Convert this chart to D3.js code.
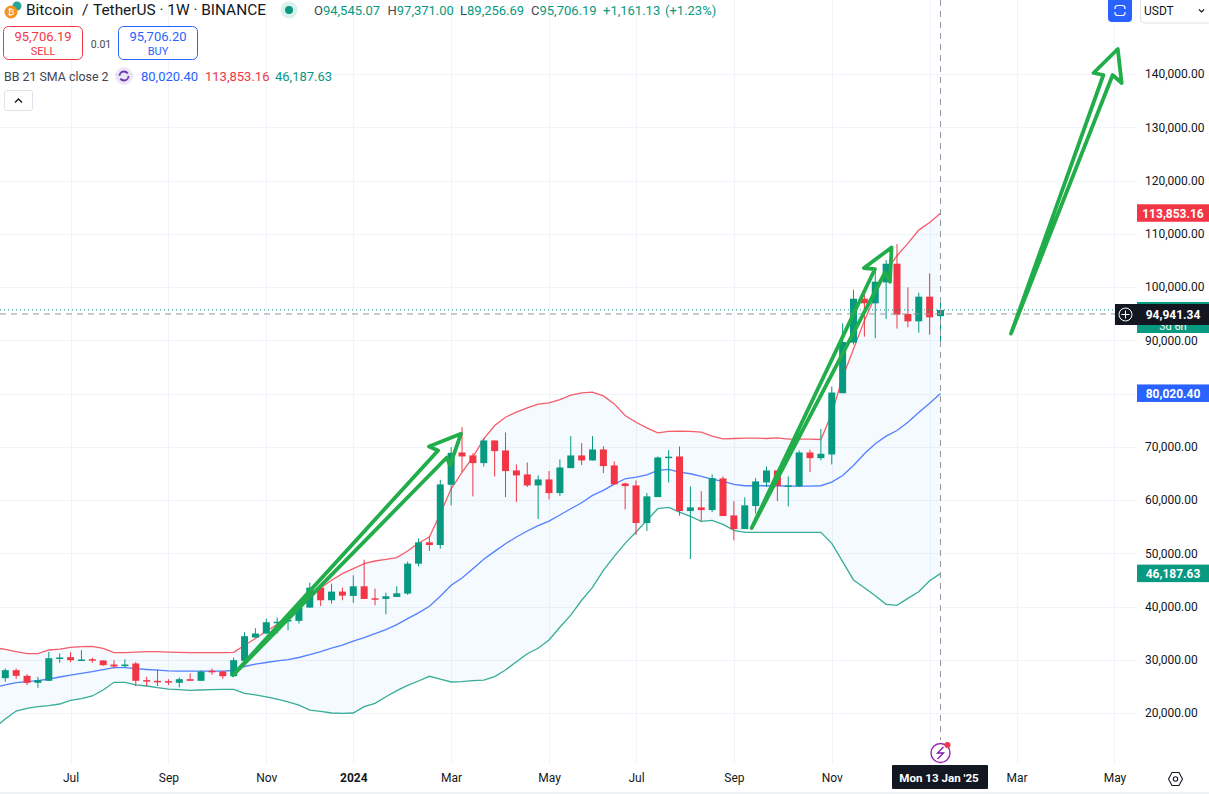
<!DOCTYPE html>
<html>
<head>
<meta charset="utf-8">
<title>BTCUSDT 1W</title>
<script src="https://cdn.jsdelivr.net/npm/d3@7"></script>
<style>
  html, body { margin: 0; padding: 0; background: #fff; overflow: hidden; }
  svg { display: block; font-family: Roboto, sans-serif; }
</style>
</head>
<body>
<svg id="chart" width="1209" height="794"></svg>
<script>
// weekly candles, week 0 = 22 May 2023, week 86 = 13 Jan 2025
const opens = [
  26560,28060,27000,25690,26060,30310,30500,29940,30120,29880,
  29120,28810,29310,26190,26060,26000,25690,26370,26060,27940,
  27810,26940,29810,34190,34940,37000,37380,37310,39810,43560,
  41190,42810,42000,43810,41560,41440,41810,42440,48060,52060,
  51560,62870,68940,68380,66940,71190,69310,65560,64810,62750,
  63870,61310,66000,68380,67440,69500,66500,63120,62750,55690,
  60560,68060,68190,57940,58630,58120,64060,57120,54560,58880,
  63310,65560,62630,62560,68940,67870,68560,80060,89560,97810,
  96940,100870,104380,94940,93560,98190,94545.07];
const closes = [
  28060,27000,25690,26190,30310,30440,29940,30060,30000,29000,
  28750,29120,26060,26000,25940,25810,26370,26060,27810,27750,
  26940,29940,34440,34940,37060,37150,37480,39810,43560,41190,
  42810,42060,43810,41440,41500,41940,42500,48060,52060,51560,
  62940,68870,68190,66940,71190,69190,65440,64630,62750,63870,
  61310,66120,68380,67440,69500,66380,62940,62620,55690,60690,
  68000,68150,57940,58630,58120,64120,57000,54560,59000,63500,
  65560,62630,62750,68940,67870,68690,80190,89690,97810,96940,
  101000,104380,94810,93560,98190,94310,95706.19];
const highs = [
  28370,28370,27310,26810,31500,31190,31440,31810,30380,29940,
  29940,30120,29620,26810,28190,26370,26690,27440,28000,28370,
  27940,30440,35190,35940,37750,37940,37750,40250,44500,43560,
  44310,43560,45870,48810,43370,42620,43810,48440,52810,53190,
  63810,69940,73690,68810,71690,71190,72690,66690,67060,64630,
  65440,67630,72000,70690,72000,70120,67250,63250,63690,61310,
  68190,69380,70060,62560,61690,64810,64440,59810,60500,64120,
  66310,65560,64440,69310,69440,73380,81310,93190,99500,98690,
  103380,105060,108060,99940,98940,102560,97371];
const lows = [
  25870,26440,25250,24750,26060,29440,29560,29810,29440,28880,
  28370,28500,25060,25060,25060,25250,24810,26060,26060,27190,
  26440,26940,29810,34190,34810,34940,35560,36810,39810,40120,
  40560,41190,40690,41440,40250,38560,41810,42190,47560,50440,
  50870,59000,65250,60690,66310,64440,60560,59630,62440,56440,
  60130,60750,66000,66560,67440,65060,62940,58250,53440,54190,
  60560,63310,57060,48940,55870,57750,57000,52440,54560,57440,
  62440,59810,58810,62440,65250,67440,66690,80060,89190,90690,
  90380,94000,92190,92440,91440,91060,89256.69];

// bollinger bands start one week before the first candle (runs off the left edge)
const upperBand = [32300,
  31970,31530,31150,31150,31850,32030,32350,32470,32540,32170,
  31340,31340,31460,31530,31530,31460,31400,31340,31340,31340,
  31340,31400,32750,34000,35370,36690,38060,39620,41500,43500,
  44940,46190,47120,48060,48560,48870,49190,50440,51940,53060,
  57440,62120,65200,68060,71500,74000,75560,76500,77310,78000,
  78250,78880,79690,80120,80250,79560,78060,75870,74620,73560,
  72620,72880,72940,72880,72750,72000,71500,71560,71620,71620,
  71560,71690,71440,71440,71440,71370,76190,83060,88370,93690,
  98370,103060,105870,108190,110690,112120,113853.16];
const basisBand = [24810,
  25280,25710,25900,26080,26400,26780,27150,27470,27770,28150,
  28530,28530,28340,28190,28060,27940,27870,27870,27880,27880,
  27880,28000,28750,29190,29500,29810,30060,30440,31000,31560,
  32190,32750,33500,34190,34940,35690,36620,37750,38810,40060,
  41940,44000,45380,47120,48870,50370,51810,53060,54190,55190,
  56060,57190,58380,59500,60870,61810,63000,64000,64310,64750,
  65560,65750,65250,64940,64440,63940,63500,62940,62690,62690,
  62690,62690,62630,62630,62630,62690,63370,64620,66500,68690,
  70560,72000,73060,74620,76440,78190,80020.40];
const lowerBand = [17200,
  18890,20390,20900,21200,21390,21710,22400,22700,23210,24340,
  25780,25780,25280,25090,24770,24520,24390,24280,24340,24390,
  24470,24470,23690,23440,23060,22620,22120,21500,20560,20340,
  20020,19960,20020,21200,21840,23080,24210,25220,26030,26910,
  26400,25840,25900,26080,26210,26840,28090,29650,31150,32170,
  33730,36120,38380,41190,43620,46810,49440,51870,54000,56190,
  58380,58630,57750,56940,56000,56190,55440,54310,53940,53940,
  53940,53940,53940,53940,53940,53950,51880,48430,45000,43550,
  42040,40430,40240,41550,42790,44860,46187.63];

const priceTicks = [20000,30000,40000,50000,60000,70000,80000,90000,100000,110000,120000,130000,140000];
const timeTickWeeks = [6,15,24,32,41,50,58,67,76,85,93,102];
// 2025 sits under the crosshair date label, 80,000 under the basis price label
const timeTickLabels = ["Jul","Sep","Nov","2024","Mar","May","Jul","Sep","Nov","","Mar","May"];

// hand drawn arrows, [week, price]
const arrowOne = [[20.94,27125],[40.6,68000],[40.9,66500],[41.9,72440],[38.96,70060],[39.8,69310]];
const arrowTwo = [[68.63,54740],[80.9,102740],[81.35,101000],[81.5,107430],[78.96,103570],[79.97,103380]];
const arrowThree = [[92.48,91250],[101.83,139810],[102.66,138310],[102.3,144690],[100.07,140190],[100.98,139810]];

const lastPrice = 95706.19;
const crosshairPrice = 94941.34;
const crosshairWeek = 86;

const UP = "#089981", DOWN = "#f23645", BLUE = "#2962ff", DARK = "#131722", TEXT = "#131722";

const svg = d3.select("#chart");
const x = d3.scaleLinear().domain([0, 86]).range([5.3, 940.5]);
const y = d3.scaleLinear().domain([20000, 140000]).range([713.1, 74]);
const plotRight = 1137, plotBottom = 764;

// grid
svg.append("g").selectAll("line").data(priceTicks).enter().append("line")
  .attr("x1", 0).attr("x2", plotRight)
  .attr("y1", d => Math.round(y(d)) + 0.5).attr("y2", d => Math.round(y(d)) + 0.5)
  .attr("stroke", "#f0f3fa");
svg.append("g").selectAll("line").data(timeTickWeeks).enter().append("line")
  .attr("x1", d => Math.round(x(d)) + 0.5).attr("x2", d => Math.round(x(d)) + 0.5)
  .attr("y1", 0).attr("y2", plotBottom)
  .attr("stroke", "#f0f3fa");

// bands
const bandWeek = i => x(i - 1);
const bandArea = d3.area().x((d, i) => bandWeek(i))
  .y0((d, i) => y(lowerBand[i])).y1(d => y(d));
svg.append("path").datum(upperBand).attr("d", bandArea).attr("fill", "#2196f3").attr("fill-opacity", 0.05);

const bandLine = d3.line().x((d, i) => bandWeek(i)).y(d => y(d));
[[upperBand, DOWN], [basisBand, BLUE], [lowerBand, UP]].forEach(([vals, col]) => {
  svg.append("path").datum(vals).attr("d", bandLine).attr("fill", "none")
    .attr("stroke", col).attr("stroke-width", 1.3).attr("stroke-opacity", 0.8);
});

// candles
const candles = svg.append("g").selectAll("g").data(d3.range(opens.length)).enter().append("g")
  .attr("fill", i => closes[i] >= opens[i] ? UP : DOWN)
  .attr("stroke", i => closes[i] >= opens[i] ? UP : DOWN);
candles.append("line")
  .attr("x1", i => x(i)).attr("x2", i => x(i))
  .attr("y1", i => y(highs[i])).attr("y2", i => y(lows[i]))
  .attr("stroke-width", 1);
candles.append("rect")
  .attr("x", i => x(i) - 3.5).attr("width", 7)
  .attr("y", i => y(Math.max(opens[i], closes[i])))
  .attr("height", i => Math.max(1.5, Math.abs(y(opens[i]) - y(closes[i]))))
  .attr("stroke", "none");

// last price and crosshair lines
svg.append("line").attr("x1", 0).attr("x2", 1115)
  .attr("y1", y(lastPrice)).attr("y2", y(lastPrice))
  .attr("stroke", UP).attr("stroke-dasharray", "1 3");
svg.append("line").attr("x1", 0).attr("x2", 1115)
  .attr("y1", y(crosshairPrice)).attr("y2", y(crosshairPrice))
  .attr("stroke", "#9598a1").attr("stroke-dasharray", "6 5");
svg.append("line").attr("x1", x(crosshairWeek)).attr("x2", x(crosshairWeek))
  .attr("y1", 0).attr("y2", 740)
  .attr("stroke", "#9598a1").attr("stroke-dasharray", "6 5");

// arrows
const arrowLine = d3.line().x(d => x(d[0])).y(d => y(d[1])).curve(d3.curveLinearClosed);
[arrowOne, arrowTwo, arrowThree].forEach(a => {
  svg.append("path").datum(a).attr("d", arrowLine)
    .attr("fill", "none").attr("stroke", "#20ad4a").attr("stroke-width", 3.8)
    .attr("stroke-linejoin", "round");
});

// axes
const priceAxis = d3.axisRight(y).tickValues(priceTicks.filter(d => d !== 80000)).tickSize(0).tickPadding(0)
  .tickFormat(d3.format(",.2f"));
const priceG = svg.append("g").attr("transform", "translate(1145,0)").call(priceAxis);
priceG.select(".domain").remove();
priceG.selectAll("text").attr("font-size", 12).attr("font-family", "Roboto, sans-serif").attr("fill", TEXT);

const timeAxis = d3.axisBottom(x).tickValues(timeTickWeeks).tickSize(0).tickPadding(0)
  .tickFormat((d, i) => timeTickLabels[i]);
const timeG = svg.append("g").attr("transform", "translate(0,773)").call(timeAxis);
timeG.select(".domain").remove();
timeG.selectAll("text").attr("font-size", 12).attr("font-family", "Roboto, sans-serif").attr("fill", TEXT)
  .attr("font-weight", d => d === 32 ? 700 : 400);

// price labels on the right
function priceLabel(value, col) {
  const g = svg.append("g");
  g.append("rect").attr("x", 1137).attr("width", 72).attr("y", y(value) - 9).attr("height", 17.5).attr("fill", col);
  g.append("text").attr("x", 1173).attr("y", y(value) + 4.3).attr("text-anchor", "middle")
    .attr("font-size", 12).attr("font-weight", 700).attr("fill", "#fff")
    .text(d3.format(",.2f")(value));
}
priceLabel(upperBand[upperBand.length - 1], DOWN);
priceLabel(basisBand[basisBand.length - 1], BLUE);
priceLabel(lowerBand[lowerBand.length - 1], UP);

// last price label with countdown, crosshair label on top
svg.append("rect").attr("x", 1137).attr("y", 302).attr("width", 72).attr("height", 31).attr("fill", UP);
svg.append("text").attr("x", 1173).attr("y", 330).attr("text-anchor", "middle").attr("font-size", 11)
  .attr("fill", "#fff").text("3d 6h");
svg.append("rect").attr("x", 1115).attr("y", 304).attr("width", 94).attr("height", 21).attr("fill", DARK);
svg.append("text").attr("x", 1173).attr("y", 318.5).attr("text-anchor", "middle").attr("font-size", 12)
  .attr("font-weight", 700).attr("fill", "#fff").text(d3.format(",.2f")(crosshairPrice));
svg.append("circle").attr("cx", 1125.5).attr("cy", 314.5).attr("r", 6.5).attr("fill", "none").attr("stroke", "#fff");
svg.append("path").attr("d", "M1125.5 310.5v8M1121.5 314.5h8").attr("stroke", "#fff").attr("fill", "none");

// crosshair date label
svg.append("rect").attr("x", 892).attr("y", 765).attr("width", 96).attr("height", 24).attr("rx", 1).attr("fill", DARK);
svg.append("text").attr("x", 939).attr("y", 782).attr("text-anchor", "middle").attr("font-size", 11.6)
  .attr("font-weight", 700).attr("fill", "#fff").text("Mon 13 Jan '25");

// bottom edge and settings hexagon
svg.append("line").attr("x1", 0).attr("x2", 1209).attr("y1", 793).attr("y2", 793).attr("stroke", "#e0e3eb");
svg.append("path").attr("d", "M1168.5 779l3.5-6.5h7l3.5 6.5l-3.5 6.5h-7z").attr("fill", "none").attr("stroke", TEXT).attr("stroke-width", 1.1);
svg.append("circle").attr("cx", 1175.5).attr("cy", 779).attr("r", 2.2).attr("fill", "none").attr("stroke", TEXT).attr("stroke-width", 1.1);

// lightning badge
svg.append("circle").attr("cx", 940.5).attr("cy", 753).attr("r", 9.5).attr("fill", "#fff").attr("stroke", "#9c27b0").attr("stroke-width", 1.4);
svg.append("path").attr("d", "M943.5 747l-6 6h6l-6 6").attr("fill", "none").attr("stroke", "#7b1fa2").attr("stroke-width", 1.3);
svg.append("circle").attr("cx", 947.5).attr("cy", 745).attr("r", 3).attr("fill", DOWN);

// header
function label(px, py, str, size, col, weight) {
  return svg.append("text").attr("x", px).attr("y", py).attr("font-size", size)
    .attr("fill", col).attr("font-weight", weight || 400).text(str);
}
svg.append("circle").attr("cx", 17).attr("cy", 6).attr("r", 4.5).attr("fill", "#26a69a");
svg.append("circle").attr("cx", 11).attr("cy", 12).attr("r", 6.5).attr("fill", "#f7931a");
svg.append("text").attr("x", 11).attr("y", 15).attr("text-anchor", "middle").attr("font-size", 9).attr("fill", "#fff").text("₿");
label(26, 15, "Bitcoin", 15.4, TEXT);
label(82, 15, "/", 15.4, TEXT);
label(93, 15, "TetherUS · 1W · BINANCE", 15.4, TEXT);
svg.append("circle").attr("cx", 289).attr("cy", 10).attr("r", 8.5).attr("fill", UP).attr("fill-opacity", 0.15);
svg.append("circle").attr("cx", 289).attr("cy", 10).attr("r", 4).attr("fill", UP);

const ohlcKeys = ["O", "H", "L", "C"];
const ohlcValues = ["94,545.07", "97,371.00", "89,256.69", "95,706.19"];
const ohlcKeyX = [314, 387.5, 460, 531];
ohlcKeys.forEach((k, i) => {
  const t = label(ohlcKeyX[i], 15, k, 13, "#434651");
  t.append("tspan").attr("fill", UP).text(ohlcValues[i]);
});
label(603, 15, "+1,161.13", 13, UP);
label(665, 15, "(+1.23%)", 13, UP);

// sell / buy boxes
svg.append("rect").attr("x", 3.5).attr("y", 26.5).attr("width", 79).attr("height", 33).attr("rx", 5).attr("fill", "#fff").attr("stroke", DOWN);
svg.append("rect").attr("x", 118.5).attr("y", 26.5).attr("width", 79).attr("height", 33).attr("rx", 5).attr("fill", "#fff").attr("stroke", BLUE);
[[43, "95,706.19", "SELL", DOWN], [158, "95,706.20", "BUY", BLUE]].forEach(([cx, price, side, col]) => {
  label(cx, 41, price, 13, col).attr("text-anchor", "middle");
  label(cx, 55, side, 11, col).attr("text-anchor", "middle");
});
label(101, 48, "0.01", 10.5, "#434651").attr("text-anchor", "middle");

// indicator legend
label(4, 81, "BB 21 SMA close 2", 12.4, "#434651");
svg.append("circle").attr("cx", 124).attr("cy", 76).attr("r", 9).attr("fill", "#7e57c2").attr("fill-opacity", 0.15);
svg.append("circle").attr("cx", 124).attr("cy", 76).attr("r", 4.5).attr("fill", "none").attr("stroke", "#673ab7").attr("stroke-width", 1.8).attr("stroke-dasharray", "11 3");
label(141, 81, "80,020.40", 13, BLUE);
label(205, 81, "113,853.16", 13, DOWN);
label(275, 81, "46,187.63", 13, UP);
svg.append("rect").attr("x", 4.5).attr("y", 90.5).attr("width", 28).attr("height", 20).attr("rx", 2).attr("fill", "#fff").attr("stroke", "#e0e3eb");
svg.append("path").attr("d", "M15 102.5l3.5-3.5l3.5 3.5").attr("fill", "none").attr("stroke", TEXT).attr("stroke-width", 1.4);

// top right buttons
svg.append("rect").attr("x", 1108).attr("y", -4).attr("width", 24).attr("height", 26).attr("rx", 4).attr("fill", BLUE);
svg.append("path").attr("d", "M1115 9v-1a2.5 2.5 0 0 1 2.5-2.5h5a2.5 2.5 0 0 1 2.5 2.5v1M1115 12v1a2.5 2.5 0 0 0 2.5 2.5h5a2.5 2.5 0 0 0 2.5-2.5v-1")
  .attr("fill", "none").attr("stroke", "#fff").attr("stroke-width", 1.2);
svg.append("rect").attr("x", 1140.5).attr("y", -4).attr("width", 72).attr("height", 27).attr("rx", 4).attr("fill", "#fff").attr("stroke", "#e0e3eb");
label(1144, 15, "USDT", 12, TEXT);
svg.append("path").attr("d", "M1199 9.5l2.5 2.5l2.5-2.5").attr("fill", "none").attr("stroke", TEXT).attr("stroke-width", 1.2);
</script>
</body>
</html>
